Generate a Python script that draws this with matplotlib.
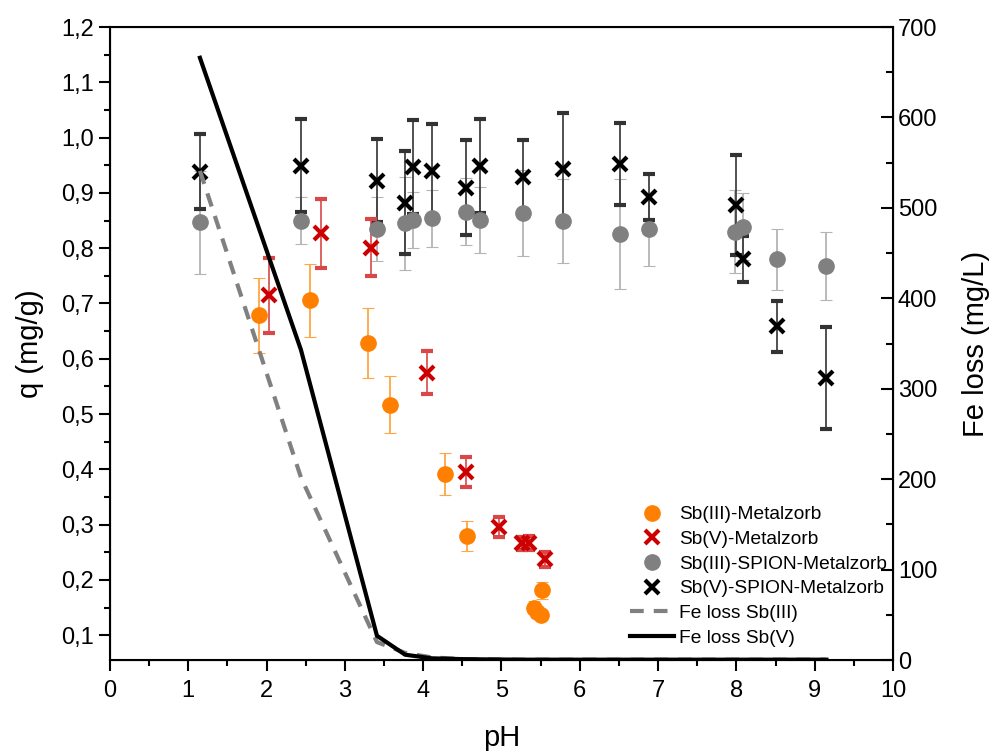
# q vs pH with Fe loss
import numpy as np
import matplotlib.pyplot as plt
from matplotlib.ticker import MultipleLocator, FuncFormatter
from matplotlib.lines import Line2D

plt.rcParams['font.family'] = ['Liberation Sans', 'DejaVu Sans']

ph_sb3 = [1.91, 2.56, 3.30, 3.58, 4.28, 4.56, 5.41, 5.46, 5.50, 5.52]
q_sb3 = [0.679, 0.706, 0.629, 0.517, 0.391, 0.279, 0.150, 0.142, 0.137, 0.181]
err_sb3 = [0.068, 0.066, 0.063, 0.052, 0.038, 0.027, 0.012, 0.010, 0.008, 0.016]

ph_sb5 = [2.03, 2.69, 3.34, 4.05, 4.55, 4.97, 5.26, 5.35, 5.55]
q_sb5 = [0.715, 0.827, 0.801, 0.575, 0.395, 0.296, 0.266, 0.267, 0.237]
err_sb5 = [0.068, 0.062, 0.051, 0.039, 0.027, 0.018, 0.012, 0.012, 0.014]

ph_sp3 = [1.15, 2.44, 3.41, 3.77, 3.87, 4.11, 4.55, 4.72, 5.28, 5.78, 6.51, 6.88, 7.98, 8.08, 8.52, 9.15]
q_sp3 = [0.847, 0.850, 0.835, 0.845, 0.851, 0.854, 0.866, 0.851, 0.863, 0.850, 0.826, 0.834, 0.830, 0.839, 0.780, 0.768]
err_sp3 = [0.093, 0.043, 0.058, 0.084, 0.051, 0.051, 0.061, 0.060, 0.078, 0.076, 0.099, 0.066, 0.075, 0.060, 0.055, 0.061]

ph_sp5 = [1.15, 2.44, 3.41, 3.77, 3.87, 4.11, 4.55, 4.72, 5.28, 5.78, 6.51, 6.88, 8.00, 8.08, 8.52, 9.15]
q_sp5 = [0.938, 0.949, 0.922, 0.882, 0.947, 0.939, 0.909, 0.949, 0.928, 0.944, 0.953, 0.893, 0.878, 0.780, 0.659, 0.565]
err_sp5 = [0.068, 0.084, 0.075, 0.093, 0.085, 0.085, 0.086, 0.085, 0.068, 0.101, 0.074, 0.042, 0.091, 0.042, 0.046, 0.092]

ph_fe = [1.15, 2.44, 3.41, 3.77, 4.11, 4.55, 5.28, 6.51, 8.08, 9.15]
fe_sb3 = [541, 202, 20, 8, 3, 1, 0.5, 0.5, 0.5, 0.5]
fe_sb5 = [666, 343, 27, 6, 2, 1, 0.5, 0.5, 0.5, 0.5]

fig = plt.figure(figsize=(9.9, 7.51), dpi=100)
ax = fig.add_axes([0.111, 0.121, 0.791, 0.843])

ms_o = 11
ms_x = 9.5
ax.errorbar(ph_sp3, q_sp3, yerr=err_sp3, fmt='o', color='#808080', ecolor='#b4b4b4',
            markersize=ms_o, capsize=4, elinewidth=1.3, capthick=0.8)
ax.errorbar(ph_sp5, q_sp5, yerr=err_sp5, fmt='x', color='black', ecolor='#333333',
            markersize=ms_x, markeredgewidth=3, capsize=4, elinewidth=1.2, capthick=0.8)
ax.errorbar(ph_sb3, q_sb3, yerr=err_sb3, fmt='o', color='#ff8000', ecolor='#ffa545',
            markersize=ms_o, capsize=4, elinewidth=1.3, capthick=0.8)
ax.errorbar(ph_sb5, q_sb5, yerr=err_sb5, fmt='x', color='#cc0000', ecolor='#d84848',
            markersize=ms_x, markeredgewidth=3, capsize=4, elinewidth=1.2, capthick=0.8)

ax.set_xlim(0, 10)
ax.set_ylim(0.055, 1.2)
ax.xaxis.set_major_locator(MultipleLocator(1))
ax.xaxis.set_minor_locator(MultipleLocator(0.5))
ax.yaxis.set_major_locator(MultipleLocator(0.1))
ax.yaxis.set_minor_locator(MultipleLocator(0.05))
ax.yaxis.set_major_formatter(FuncFormatter(lambda v, p: ('%.1f' % v).replace('.', ',')))
ax.tick_params(which='both', direction='out', width=1.5, labelsize=17)
ax.tick_params(which='major', length=8)
ax.tick_params(which='minor', length=4)
ax.tick_params(axis='x', top=False, pad=6)
for s in ax.spines.values():
    s.set_linewidth(1.5)
ax.set_xlabel('pH', fontsize=21, labelpad=16)
ax.set_ylabel('q (mg/g)', fontsize=21, labelpad=12)

ax2 = ax.twinx()
ax2.plot(ph_fe, fe_sb3, color='#808080', linewidth=3, linestyle=(0, (3.3, 2.4)))
ax2.plot(ph_fe, fe_sb5, color='black', linewidth=3)
ax2.set_ylim(0, 700)
ax2.yaxis.set_major_locator(MultipleLocator(100))
ax2.yaxis.set_minor_locator(MultipleLocator(50))
ax2.tick_params(which='both', direction='in', width=1.5, labelsize=17)
ax2.tick_params(which='major', length=9)
ax2.tick_params(which='minor', length=5)
ax2.set_ylabel('Fe loss (mg/L)', fontsize=21, labelpad=18)

handles = [
    Line2D([], [], marker='o', linestyle='none', color='#ff8000', markersize=ms_o),
    Line2D([], [], marker='x', linestyle='none', color='#cc0000', markersize=ms_x, markeredgewidth=3),
    Line2D([], [], marker='o', linestyle='none', color='#808080', markersize=ms_o),
    Line2D([], [], marker='x', linestyle='none', color='black', markersize=ms_x, markeredgewidth=3),
    Line2D([], [], color='#808080', linewidth=3, linestyle=(0, (3.3, 2.4))),
    Line2D([], [], color='black', linewidth=3),
]
labels = ['Sb(III)-Metalzorb', 'Sb(V)-Metalzorb', 'Sb(III)-SPION-Metalzorb',
          'Sb(V)-SPION-Metalzorb', 'Fe loss Sb(III)', 'Fe loss Sb(V)']
ax2.legend(handles, labels, loc='lower right', bbox_to_anchor=(1.01, 0.0),
           frameon=False, fontsize=13.8, handlelength=2.3, handletextpad=0.3,
           labelspacing=0.38, borderaxespad=0.3)

fig.savefig('out.png', dpi=100)
